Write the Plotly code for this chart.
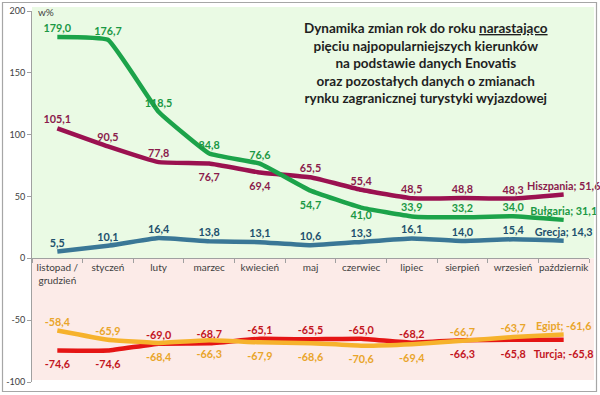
import plotly.graph_objects as go

categories = ["listopad /<br>grudzień", "styczeń", "luty", "marzec", "kwiecień", "maj",
              "czerwiec", "lipiec", "sierpień", "wrzesień", "październik"]

bulgaria = [179.0, 176.7, 118.5, 84.8, 76.6, 54.7, 41.0, 33.9, 33.2, 34.0, 31.1]
hiszpania = [105.1, 90.5, 77.8, 76.7, 69.4, 65.5, 55.4, 48.5, 48.8, 48.3, 51.6]
grecja = [5.5, 10.1, 16.4, 13.8, 13.1, 10.6, 13.3, 16.1, 14.0, 15.4, 14.3]
egipt = [-58.4, -65.9, -68.4, -66.3, -67.9, -68.6, -70.6, -69.4, -66.7, -63.7, -61.6]
turcja = [-74.6, -74.6, -69.0, -68.7, -65.1, -65.5, -65.0, -68.2, -66.3, -65.8, -65.8]

series_names = ["Bułgaria", "Hiszpania", "Grecja", "Egipt", "Turcja"]

# label placement: t = above, b = below, c = below, close to the line
pos_bulgaria = ["t", "t", "t", "t", "t", "b", "c", "t", "t", "t", "t"]
pos_hiszpania = ["t", "t", "t", "b", "b", "t", "t", "t", "t", "t", "t"]
pos_grecja = ["t"] * 11
pos_egipt = ["t", "t", "b", "b", "b", "b", "b", "b", "t", "t", "t"]
pos_turcja = ["b", "b", "t", "t", "t", "t", "t", "t", "b", "b", "b"]

y_ticks = [-100, -50, 0, 50, 100, 150, 200]
y_ticktext = ["-100", "-50", "0", "50", "100", "150", "200"]

title_lines = [
    "Dynamika zmian rok do roku <u>narastająco</u>",
    "pięciu najpopularniejszych kierunków",
    "na podstawie danych Enovatis",
    "oraz pozostałych danych o zmianach",
    "rynku zagranicznej turystyki wyjazdowej",
]

FONT = "Lato"


def fmt(v):
    return f"{v:.1f}".replace(".", ",")


def labels(name, vals):
    out = [fmt(v) for v in vals]
    out[-1] = f"{name}; {fmt(vals[-1])}"
    return out


def positions(p):
    return ["top center" if s == "t" else "bottom center" for s in p]


def offsets(p):
    # invisible marker sizes, used only to push the labels away from the line
    return [{"t": 2, "b": 14, "c": 4}[s] for s in p]


fig = go.Figure()

specs = [
    ("Turcja", turcja, pos_turcja, "#E51515", "#C3161E"),
    ("Egipt", egipt, pos_egipt, "#F6B22C", "#E9A52B"),
    ("Grecja", grecja, pos_grecja, "#3A7796", "#21506D"),
    ("Hiszpania", hiszpania, pos_hiszpania, "#9B1150", "#8A1C4C"),
    ("Bułgaria", bulgaria, pos_bulgaria, "#1CA34A", "#1B9844"),
]

for name, vals, pos, lc, tc in specs:
    fig.add_trace(go.Scatter(
        x=categories, y=vals, name=name,
        mode="lines+markers+text",
        line=dict(color=lc, width=4.5, shape="spline", smoothing=0.3),
        marker=dict(size=offsets(pos), color="rgba(0,0,0,0)",
                    line=dict(width=0, color="rgba(0,0,0,0)"), opacity=0),
        text=labels(name, vals),
        textposition=positions(pos),
        textfont=dict(family=FONT, size=10.8, color=tc, weight="bold"),
        hoverinfo="skip",
        showlegend=False,
        cliponaxis=False,
    ))

# plot area pixels: x 32..589, y 11..382
fig.update_layout(
    width=600, height=395,
    margin=dict(l=32, r=11, t=11, b=13, autoexpand=False),
    paper_bgcolor="white",
    plot_bgcolor="rgba(0,0,0,0)",
    hovermode=False,
    font=dict(family=FONT, color="#404040"),
    shapes=[
        dict(type="rect", xref="paper", yref="paper", x0=0, x1=1.009,
             y0=1/3, y1=1.011, fillcolor="#EAFAE4", line=dict(width=0), layer="below"),
        dict(type="rect", xref="paper", yref="paper", x0=0, x1=1.009,
             y0=0.0054, y1=1/3, fillcolor="#FCEBE8", line=dict(width=0), layer="below"),
        dict(type="rect", xref="paper", yref="paper", x0=(2.5-32)/557, x1=(596.5-32)/557,
             y0=(382-391.5)/371, y1=(382-2.5)/371, fillcolor="rgba(0,0,0,0)",
             line=dict(width=1.2, color="#A6A6A6"), layer="above"),
    ],
    annotations=[
        dict(xref="paper", yref="paper", x=(426-32)/557, y=(382-63)/371,
             text="<br>".join(title_lines), showarrow=False, align="center",
             xanchor="center", yanchor="middle",
             font=dict(family=FONT, size=13.5, color="#1F1F1F", weight="bold")),
        dict(xref="paper", yref="paper", x=(36-32)/557, y=(382-12)/371,
             text="w%", showarrow=False, xanchor="left", yanchor="middle",
             font=dict(family=FONT, size=10, color="#404040")),
    ],
)

fig.update_xaxes(
    type="category", range=[-0.5, 10.5],
    anchor="free", position=1/3, automargin=False,
    showline=True, linecolor="#A0A0A0", linewidth=1,
    ticks="outside", tickson="boundaries", ticklen=4, tickcolor="#A0A0A0",
    tickangle=0,
    tickfont=dict(family=FONT, size=10, color="#404040"),
    showgrid=False, zeroline=False,
)
fig.update_yaxes(
    range=[-100, 200], tickvals=y_ticks, ticktext=y_ticktext, automargin=False,
    showline=True, linecolor="#A0A0A0", linewidth=1,
    ticks="outside", ticklen=4, tickcolor="#A0A0A0",
    tickfont=dict(family=FONT, size=9, color="#404040"),
    showgrid=False, zeroline=False,
)

fig.write_html("out.html", config={"displayModeBar": False, "staticPlot": True},
               post_script="document.body.style.margin='0px';")
